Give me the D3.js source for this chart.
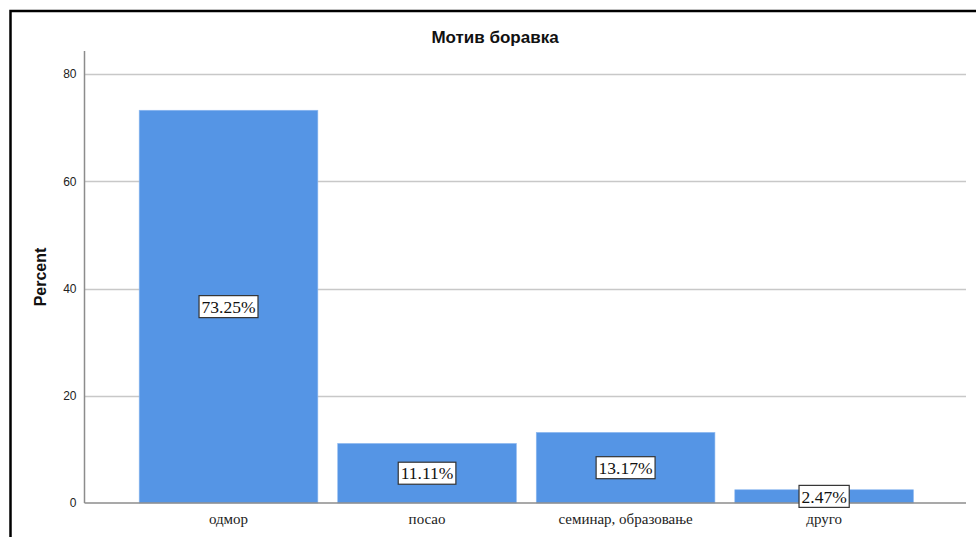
<!DOCTYPE html>
<html>
<head>
<meta charset="utf-8">
<script src="https://cdn.jsdelivr.net/npm/d3@7"></script>
<style>
  body { margin: 0; background: #fff; }
</style>
</head>
<body>
<script>
var categories = ["одмор", "посао", "семинар, образовање", "друго"];
var percents = [73.25, 11.11, 13.17, 2.47];
var yTicks = [0, 20, 40, 60, 80];

var width = 976,
    height = 537;

var svg = d3.select("body").append("svg")
    .attr("width", width)
    .attr("height", height)
    .style("display", "block");

// outer frame
svg.append("rect")
    .attr("x", 10.5).attr("y", 11)
    .attr("width", 1000).attr("height", 600)
    .attr("fill", "none")
    .attr("stroke", "#000")
    .attr("stroke-width", 2.5);

// note: "top" is a window property, so use other names
var plotLeft = 84.5, plotRight = 966, plotTop = 51, plotBottom = 503;

var x = d3.scaleBand()
    .domain(categories)
    .range([plotLeft, plotRight])
    .paddingInner(0.1)
    .paddingOuter(0.27)
    .align(0.51);

var y = d3.scaleLinear()
    .domain([0, 84.3])
    .range([plotBottom, plotTop]);

// gridlines
svg.append("g")
    .selectAll("line")
    .data(yTicks.filter(function(d) { return d > 0; }))
    .enter().append("line")
    .attr("x1", plotLeft).attr("x2", plotRight)
    .attr("y1", function(d) { return Math.round(y(d)) + 0.5; })
    .attr("y2", function(d) { return Math.round(y(d)) + 0.5; })
    .attr("stroke", "#c8c8c8")
    .attr("stroke-width", 1.5);

// bars
svg.append("g")
    .selectAll("rect")
    .data(percents)
    .enter().append("rect")
    .attr("x", function(d, i) { return x(categories[i]); })
    .attr("y", function(d) { return y(d); })
    .attr("width", x.bandwidth())
    .attr("height", function(d) { return y(0) - y(d); })
    .attr("fill", "#5595e5")
    .attr("stroke", "#8fbaf0")
    .attr("stroke-width", 0.6);

// y axis
var yAxis = d3.axisLeft(y)
    .tickValues(yTicks)
    .tickSize(0)
    .tickPadding(8);

var ya = svg.append("g")
    .attr("transform", "translate(" + plotLeft + ",0)")
    .call(yAxis);
ya.select(".domain").attr("stroke", "#8c8c8c").attr("stroke-width", 1.5)
    .attr("d", "M0," + plotTop + "V" + plotBottom);
ya.selectAll("text")
    .attr("font-family", "Liberation Sans, Arial, sans-serif")
    .attr("font-size", 12)
    .attr("fill", "#222");

// x axis
var xAxis = d3.axisBottom(x).tickSize(0).tickPadding(10);
var xa = svg.append("g")
    .attr("transform", "translate(0," + plotBottom + ")")
    .call(xAxis);
xa.select(".domain").attr("stroke", "#8c8c8c").attr("stroke-width", 1.5)
    .attr("d", "M" + plotLeft + ",0H" + plotRight);
xa.selectAll("text")
    .attr("font-family", "Liberation Serif, Times New Roman, serif")
    .attr("font-size", 15)
    .attr("fill", "#222");

// data labels
var labels = svg.append("g")
    .selectAll("g")
    .data(percents)
    .enter().append("g")
    .attr("transform", function(d, i) {
        return "translate(" + (x(categories[i]) + x.bandwidth() / 2) + "," + ((y(d) + y(0)) / 2) + ")";
    });

labels.append("text")
    .attr("text-anchor", "middle")
    .attr("dy", "0.35em")
    .attr("font-family", "Liberation Serif, Times New Roman, serif")
    .attr("font-size", 17.5)
    .attr("fill", "#111")
    .text(function(d) { return d.toFixed(2) + "%"; })
    .each(function() {
        var b = this.getBBox();
        d3.select(this.parentNode).insert("rect", "text")
            .attr("x", b.x - 2.5).attr("y", -11)
            .attr("width", b.width + 5).attr("height", 22)
            .attr("fill", "#fff")
            .attr("stroke", "#333")
            .attr("stroke-width", 1.2);
    });

// title
svg.append("text")
    .attr("x", 495).attr("y", 43)
    .attr("text-anchor", "middle")
    .attr("font-family", "Liberation Sans, Arial, sans-serif")
    .attr("font-weight", "bold")
    .attr("font-size", 17)
    .attr("fill", "#111")
    .text("Мотив боравка");

// y label
svg.append("text")
    .attr("transform", "translate(46," + 277 + ") rotate(-90)")
    .attr("text-anchor", "middle")
    .attr("font-family", "Liberation Sans, Arial, sans-serif")
    .attr("font-weight", "bold")
    .attr("font-size", 16)
    .attr("fill", "#111")
    .text("Percent");
</script>
</body>
</html>
